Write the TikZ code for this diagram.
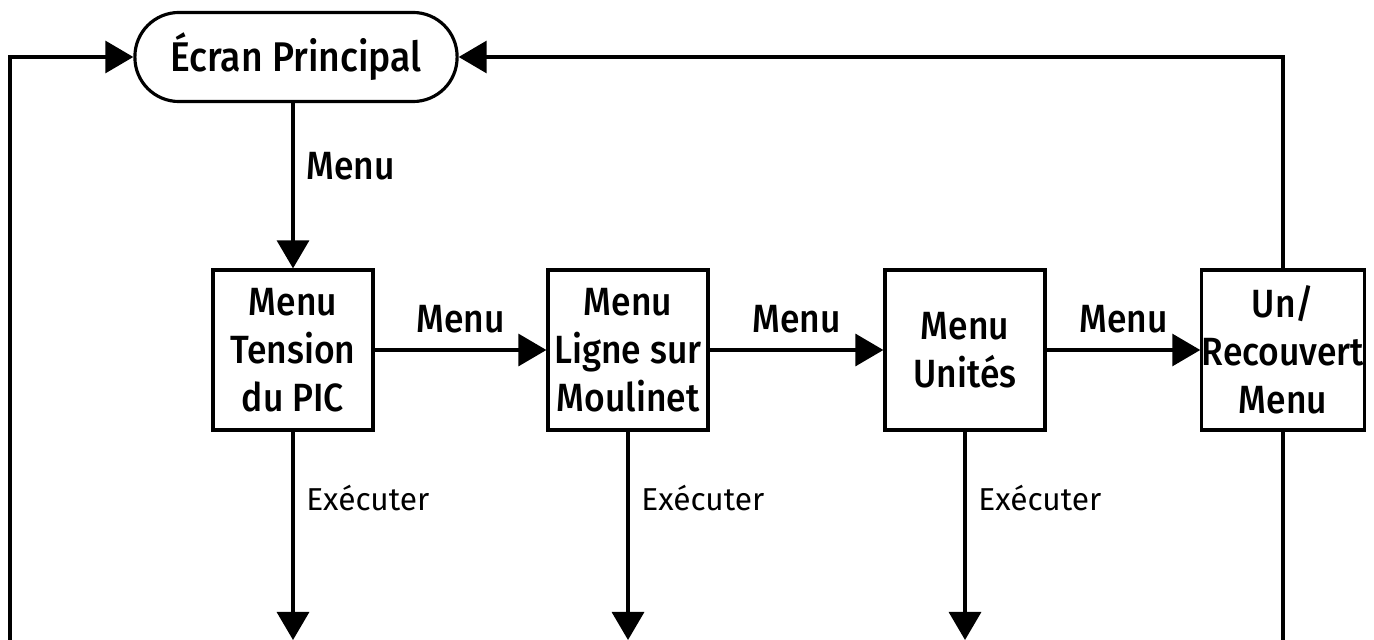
\documentclass[tikz,border=0pt]{standalone}
\usepackage{fontspec}
\setmainfont{Fira Sans}[BoldFont={Fira Sans Medium}, BoldFeatures={FakeStretch=0.9}]
\usetikzlibrary{positioning,arrows.meta}

\tikzset{
  box/.style={draw, minimum width=1.6cm, minimum height=1.6cm, inner sep=0pt,
    align=center, font=\bfseries\fontsize{11.2}{13.6}\selectfont},
  lbl/.style={font=\bfseries\fontsize{11.2}{13.6}\selectfont},
  small/.style={font=\fontsize{9}{10}\selectfont}
}

\begin{document}
\begin{tikzpicture}[x=0.01cm, y=-0.01cm, line width=0.9pt,
  >={Triangle[length=0.28cm, width=0.32cm]}]
\useasboundingbox (0,0) rectangle (1374,640);

\node[draw, rounded corners=0.44cm, minimum width=3.22cm, minimum height=0.89cm,
  font=\bfseries\fontsize{11.8}{13.6}\selectfont](main) at (296,57) {Écran Principal};

\node[box](b1) at (293,350) {Menu\\Tension\\du PIC};
\node[box](b2) at (628,350) {Menu\\Ligne sur\\Moulinet};
\node[box](b3) at (965,350) {Menu\\Unités};
\node[box](b4) at (1283,350) {Un/\\Recouvert\\Menu};

% menu path
\draw[->] (main.south -| b1) -- node[lbl, right=0pt, pos=0.38]{Menu} (b1.north);
\draw[->] (b1) -- node[lbl, above=1pt]{Menu} (b2);
\draw[->] (b2) -- node[lbl, above=1pt]{Menu} (b3);
\draw[->] (b3) -- node[lbl, above=1pt]{Menu} (b4);

% back to main screen
\coordinate (l1) at (10,640);
\draw[->] (l1) |- (main.west);
\draw[->] (b4.north) |- (main.east);
\coordinate (e4) at (1283,640);
\draw (b4.south) -- (e4);

% execute
\foreach \i in {1,2,3}{
  \coordinate (e\i) at (b\i.south |- l1);
  \draw[->] (b\i.south) -- node[small, right=0pt, pos=0.32]{Exécuter} (e\i);
}

\end{tikzpicture}
\end{document}
